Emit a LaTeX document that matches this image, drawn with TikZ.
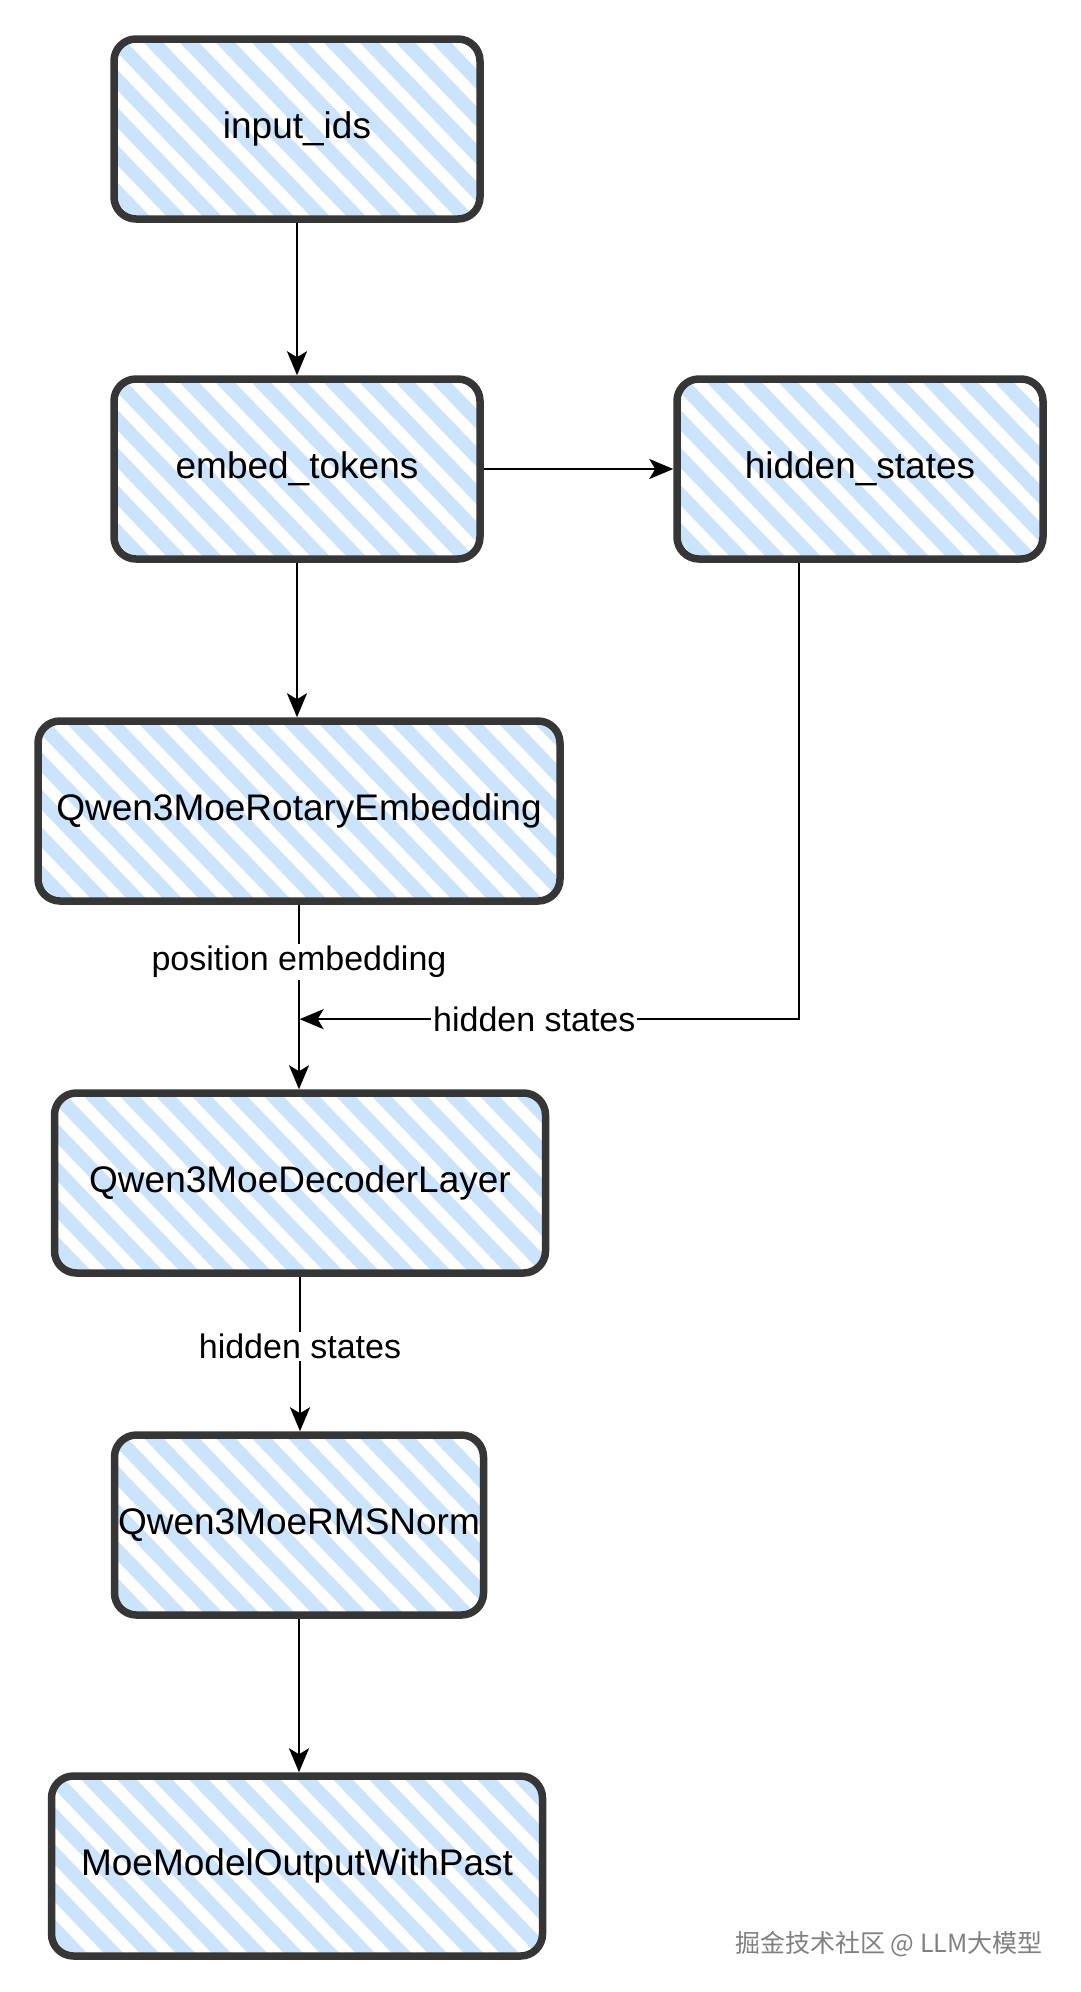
\documentclass[tikz,border=0pt]{standalone}
\usepackage{fontspec}
\setmainfont{Liberation Sans}
\newfontfamily\cjk{Noto Sans CJK SC}
\usetikzlibrary{arrows.meta,calc}
\definecolor{hatchc}{HTML}{CCE4FB}
\definecolor{boxline}{HTML}{363636}
\begin{document}
\begin{tikzpicture}[x=1pt,y=-1pt,
  box/.style={draw=boxline, line width=7.5pt, line join=round, rounded corners=22pt,
    minimum height=180pt, inner sep=0pt, font=\fontsize{37}{44}\selectfont,
    path picture={\foreach \k in {-7,...,17}{\draw[hatchc, line width=14pt, line cap=round]
      ([xshift=\k*36pt]path picture bounding box.north west) -- ++(240pt,-250pt);}}},
  arr/.style={draw=black, line width=2.6pt, -{Stealth[length=24pt,width=20pt,inset=6pt]}},
  lab/.style={fill=white, font=\fontsize{34}{40}\selectfont, inner sep=2pt}]
\fill[white] (0,0) rectangle (1080,1992);
\useasboundingbox (0,0) rectangle (1080,1992);

\node[box, minimum width=366pt] (ids) at (297,129) {input\_ids};
\node[box, minimum width=366pt] (emb) at (297,469) {embed\_tokens};
\node[box, minimum width=366pt] (hid) at (860,469) {hidden\_states};
\node[box, minimum width=522pt] (rot) at (299,811) {Qwen3MoeRotaryEmbedding};
\node[box, minimum width=491pt] (dec) at (300,1183) {Qwen3MoeDecoderLayer};
\node[box, minimum width=369pt] (rms) at (299,1525) {Qwen3MoeRMSNorm};
\node[box, minimum width=491pt] (out) at (297,1866) {MoeModelOutputWithPast};

\coordinate (join) at ($(rot.south)!0.62!(dec.north)$);

\draw[arr] (ids.south) -- (ids.south |- emb.north);
\draw[arr] (emb.east) -- (hid.west);
\draw[arr] (emb.south) -- (emb.south |- rot.north);
\draw[arr] (rot.south) -- node[lab, pos=0.31] {position embedding} (rot.south |- dec.north);
\draw[arr] ([xshift=-61pt]hid.south) |- node[lab, pos=0.765] {hidden states} (join);
\draw[arr] (dec.south) -- node[lab, pos=0.45] {hidden states} (dec.south |- rms.north);
\draw[arr] (rms.south) -- (rms.south |- out.north);

\node[font=\cjk\fontsize{25}{30}\selectfont, text=black!50, anchor=east] (wm) at (1046,1944) {掘金技术社区 @ LLM大模型};
\end{tikzpicture}
\end{document}
